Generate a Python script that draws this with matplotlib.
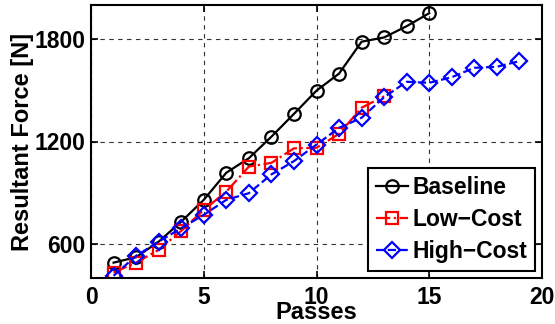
import matplotlib
matplotlib.use("Agg")
import matplotlib.pyplot as plt

plt.rcParams['font.family'] = ['Liberation Sans', 'DejaVu Sans']
plt.rcParams['font.weight'] = 'bold'

passes_base = [1, 2, 3, 4, 5, 6, 7, 8, 9, 10, 11, 12, 13, 14, 15]
baseline = [490, 522, 613, 730, 858, 1017, 1102, 1228, 1362, 1498, 1598, 1785, 1810, 1876, 1952]

passes_low = [1, 2, 3, 4, 5, 6, 7, 8, 9, 10, 11, 12, 13]
low_cost = [432, 490, 565, 676, 799, 906, 1053, 1075, 1160, 1163, 1245, 1398, 1465]

passes_high = list(range(1, 20))
high_cost = [413, 530, 613, 692, 770, 858, 897, 1007, 1085, 1182, 1280, 1339, 1460,
             1550, 1544, 1577, 1632, 1638, 1671]

x_ticks = [0, 5, 10, 15, 20]
y_ticks = [600, 1200, 1800]

fig = plt.figure(figsize=(5.55, 3.24), dpi=100)
ax = fig.add_axes([91 / 555, 1 - 278 / 324, 451 / 555, 273 / 324])

ax.plot(passes_base, baseline, '-', color='black', lw=1.6, marker='o',
        ms=9, mfc='none', mew=1.6, label='Baseline')
ax.plot(passes_low, low_cost, '-.', color='red', lw=1.6, marker='s',
        ms=8.5, mfc='none', mew=1.6, label='Low\u2212Cost')
ax.plot(passes_high, high_cost, '--', color='blue', lw=1.6, marker='D',
        ms=8, mfc='none', mew=1.6, label='High\u2212Cost')

ax.set_xlim(0, 20)
ax.set_ylim(400, 2000)
ax.set_xticks(x_ticks)
ax.set_yticks(y_ticks)
ax.tick_params(direction='in', labelsize=16.5, width=1.2, length=5, top=True, right=True)
ax.tick_params(axis='x', pad=6)
ax.tick_params(axis='y', pad=4)
for s in ax.spines.values():
    s.set_linewidth(1.5)
ax.grid(True, linestyle=(0, (4, 4)), color='#333333', lw=0.8)

ax.set_xlabel('Passes', fontsize=17, fontweight='bold', labelpad=-6)
ax.set_ylabel('Resultant Force [N]', fontsize=17, fontweight='bold', labelpad=0)

leg = ax.legend(loc='lower right', fontsize=16.5, fancybox=False, framealpha=1,
                edgecolor='black', handlelength=1.4, handletextpad=0.2,
                borderpad=0.35, labelspacing=0.4, borderaxespad=0.3)
leg.get_frame().set_linewidth(1.5)

fig.savefig('out.png', dpi=100)
